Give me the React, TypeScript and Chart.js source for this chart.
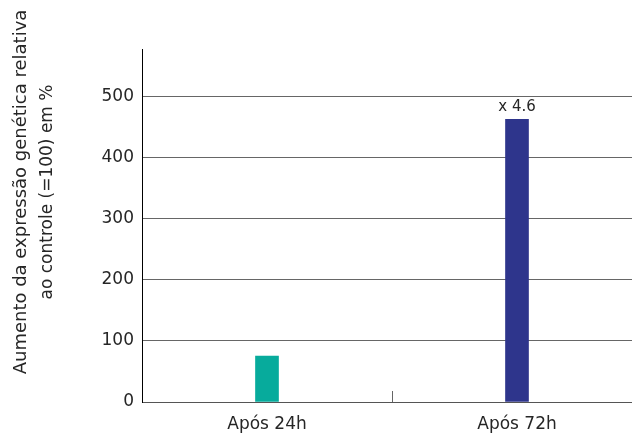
import React, { useEffect, useRef } from "react";
import { Chart, registerables } from "chart.js";

Chart.register(...registerables);

const categories: string[] = ["Após 24h", "Após 72h"];
const values: number[] = [75, 462];
const barColors: string[] = ["#07ab9c", "#2e358c"];
const barLabels: string[] = ["", "x 4.6"];
const yTitleLines: string[] = ["Aumento da expressão genética relativa", "ao controle (=100) em %"];
const yMax = 577;
const yStep = 100;

const FONT = "'DejaVu Sans', Verdana, sans-serif";
const TEXT = "#262626";

export default function App() {
  const ref = useRef<HTMLCanvasElement | null>(null);

  useEffect(() => {
    document.documentElement.style.overflow = "hidden";
    document.body.style.overflow = "hidden";
    const canvas = ref.current;
    if (!canvas) return;

    const extras = {
      id: "extras",
      afterDatasetsDraw(chart: any) {
        const ctx = chart.ctx;
        const meta = chart.getDatasetMeta(0);
        ctx.save();
        ctx.fillStyle = TEXT;
        ctx.font = `15px ${FONT}`;
        ctx.textAlign = "center";
        ctx.textBaseline = "alphabetic";
        meta.data.forEach((bar: any, i: number) => {
          if (barLabels[i]) ctx.fillText(barLabels[i], bar.x, bar.y - 8);
        });
        const xs = chart.scales.x;
        const area = chart.chartArea;
        for (let i = 0; i < categories.length - 1; i++) {
          const x = Math.round((xs.getPixelForValue(i) + xs.getPixelForValue(i + 1)) / 2) + 0.5;
          ctx.strokeStyle = "#666";
          ctx.lineWidth = 1;
          ctx.beginPath();
          ctx.moveTo(x, area.bottom - 11);
          ctx.lineTo(x, area.bottom);
          ctx.stroke();
        }
        ctx.restore();
      },
      afterDraw(chart: any) {
        const ctx = chart.ctx;
        const centerY = 192;
        const baselines = [26, 51.5];
        const sizes = [18, 17];
        ctx.save();
        ctx.fillStyle = TEXT;
        ctx.textAlign = "center";
        ctx.textBaseline = "alphabetic";
        ctx.rotate(-Math.PI / 2);
        yTitleLines.forEach((line, i) => {
          ctx.font = `${sizes[i]}px ${FONT}`;
          ctx.fillText(line, -centerY, baselines[i]);
        });
        ctx.restore();
      },
    };

    const chart = new Chart(canvas, {
      type: "bar",
      data: {
        labels: categories,
        datasets: [
          {
            data: values,
            backgroundColor: barColors,
            borderWidth: 0,
            barThickness: 23,
          },
        ],
      },
      options: {
        responsive: false,
        animation: false,
        devicePixelRatio: 1,
        layout: { padding: { top: 49, right: 3, left: 0, bottom: 0 } },
        plugins: {
          legend: { display: false },
          tooltip: { enabled: false },
          title: { display: false },
        },
        scales: {
          x: {
            offset: true,
            grid: { display: false, drawTicks: false },
            border: { display: true, color: "#555", width: 1 },
            ticks: {
              color: TEXT,
              font: { family: FONT, size: 17 },
              padding: 12,
              maxRotation: 0,
            },
            afterFit(scale: any) {
              scale.height = 34;
            },
          },
          y: {
            min: 0,
            max: yMax,
            grid: { color: "#666", lineWidth: 1, drawTicks: false },
            border: { display: true, color: "#000", width: 1 },
            ticks: {
              stepSize: yStep,
              includeBounds: false,
              color: TEXT,
              font: { family: FONT, size: 17 },
              padding: 8,
            },
            afterFit(scale: any) {
              scale.width = 142;
            },
          },
        },
      },
      plugins: [extras],
    });

    return () => chart.destroy();
  }, []);

  return (
    <div style={{ position: "fixed", left: 0, top: 0, width: 645, height: 436, background: "#fff" }}>
      <canvas ref={ref} width={645} height={436} style={{ display: "block" }} />
    </div>
  );
}
